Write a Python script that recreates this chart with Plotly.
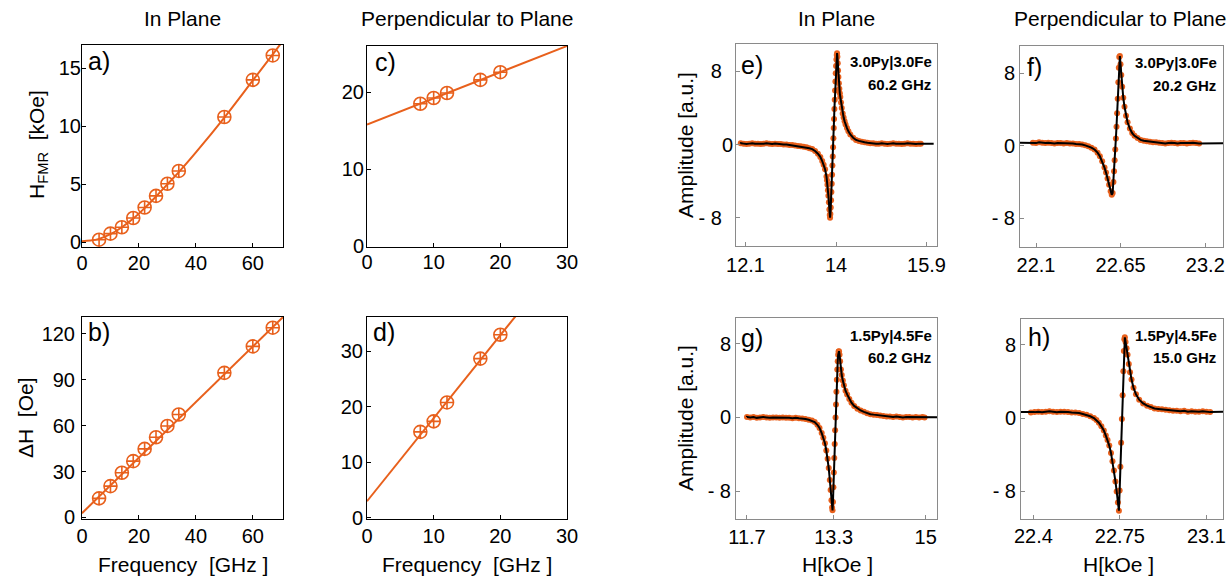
import plotly.graph_objects as go

# ---------------- data ----------------
# a) in-plane resonance field vs frequency
A_FREQ = [6, 10, 14, 18, 22, 26, 30, 34, 50, 60, 67]
A_HFMR = [0.23, 0.75, 1.3, 2.1, 3.0, 4.0, 5.05, 6.15, 10.8, 14.0, 16.1]
A_FIT_FREQ = [0, 3, 6, 10, 14, 18, 22, 26, 30, 34, 40, 50, 60, 67, 71]
A_FIT_H = [0.1, 0.15, 0.3, 0.7, 1.3, 2.05, 2.95, 3.95, 5.0, 6.05, 7.75, 10.75, 13.95, 16.2, 17.5]

# b) in-plane linewidth vs frequency
B_FREQ = [6, 10, 14, 18, 22, 26, 30, 34, 50, 60, 67]
B_DH = [12.5, 20.5, 29.2, 36.8, 44.8, 52.4, 59.8, 67.3, 94.5, 111.8, 124.0]
B_FIT_FREQ = [0, 72]
B_FIT_DH = [2.8, 133.5]

# c) perpendicular resonance field vs frequency
C_FREQ = [8, 10, 12, 17, 20]
C_HFMR = [18.5, 19.25, 19.9, 21.6, 22.6]
C_FIT_FREQ = [0, 30]
C_FIT_H = [15.8, 26.0]

# d) perpendicular linewidth vs frequency
D_FREQ = [8, 10, 12, 17, 20]
D_DH = [15.5, 17.4, 20.8, 28.7, 33.0]
D_FIT_FREQ = [0, 25]
D_FIT_DH = [3.0, 40.4]

# e) 3.0Py|3.0Fe, in plane, 60.2 GHz
E_FIELD = [12.00, 12.06, 12.12, 12.18, 12.24, 12.30, 12.36, 12.42, 12.48, 12.54, 12.60,
           12.66, 12.72, 12.78, 12.84, 12.90, 12.96, 13.02, 13.08, 13.14, 13.20,
           13.26, 13.32, 13.38, 13.44, 13.50, 13.56, 13.62,
           13.67, 13.71, 13.74, 13.77,
           13.80, 13.81, 13.82, 13.83, 13.84, 13.85, 13.86,
           13.868, 13.875,
           13.882, 13.889, 13.896, 13.903, 13.910, 13.917, 13.924, 13.931, 13.938, 13.945,
           13.952, 13.959, 13.966, 13.973, 13.980, 13.987, 13.994, 14.001, 14.008, 14.015, 14.022,
           14.029, 14.036, 14.043,
           14.05, 14.06, 14.07, 14.08, 14.09,
           14.105, 14.12, 14.14, 14.16, 14.18, 14.20,
           14.23, 14.26, 14.30,
           14.36, 14.42, 14.48, 14.54, 14.60,
           14.66, 14.72, 14.78, 14.84, 14.90, 14.96, 15.02, 15.08, 15.14, 15.20,
           15.26, 15.32, 15.38, 15.44, 15.50, 15.56, 15.62, 15.68, 15.74, 15.78]
E_AMP = [0.15, 0.1, 0.05, 0.1, 0.15, 0.1, 0.1, 0.05, 0.1, 0.15, 0.1,
         0.05, 0.1, 0.05, 0.05, 0.0, 0.0, -0.05, -0.05, -0.1, -0.15,
         -0.2, -0.25, -0.3, -0.4, -0.5, -0.7, -1.0,
         -1.35, -1.8, -2.2, -2.7,
         -3.5, -3.9, -4.4, -5.0, -5.6, -6.3, -7.1,
         -7.7, -8.0,
         -7.6, -6.9, -6.1, -5.2, -4.3, -3.3, -2.3, -1.3, -0.3, 0.7,
         1.8, 2.8, 3.9, 4.9, 5.9, 6.9, 7.8, 8.6, 9.3, 9.8, 10.0,
         9.6, 8.9, 8.1,
         7.4, 6.7, 6.1, 5.6, 5.2,
         4.6, 4.0, 3.4, 2.95, 2.55, 2.2,
         1.8, 1.45, 1.1,
         0.75, 0.5, 0.4, 0.3, 0.25,
         0.2, 0.15, 0.15, 0.1, 0.1, 0.15, 0.1, 0.05, 0.1, 0.15,
         0.1, 0.1, 0.05, 0.1, 0.15, 0.1, 0.1, 0.05, 0.1, 0.1]
E_FIT_ENDS = [11.99, 16.05]
E_FIT_BASE = [0.1, 0.1]

# f) 3.0Py|3.0Fe, perpendicular, 20.2 GHz
F_FIELD = [22.08, 22.10, 22.12, 22.14, 22.16, 22.18, 22.20, 22.22, 22.24, 22.26, 22.28,
           22.30, 22.32, 22.34, 22.36, 22.38,
           22.40, 22.42, 22.44, 22.46, 22.48, 22.50, 22.515, 22.53, 22.545, 22.555,
           22.565, 22.575, 22.585, 22.592, 22.598, 22.603, 22.607, 22.611, 22.615, 22.619,
           22.623, 22.627, 22.631, 22.635, 22.638, 22.641, 22.645, 22.649, 22.654, 22.66,
           22.667, 22.675, 22.685, 22.695, 22.71, 22.725, 22.74, 22.76, 22.78, 22.80,
           22.82, 22.84, 22.86, 22.88, 22.90,
           22.92, 22.94, 22.96, 22.98, 23.00, 23.02, 23.04, 23.06, 23.08, 23.10,
           23.12, 23.14, 23.16]
F_AMP = [0.35, 0.3, 0.4, 0.35, 0.3, 0.35, 0.3, 0.25, 0.3, 0.3, 0.25,
         0.3, 0.25, 0.25, 0.2, 0.2,
         0.15, 0.05, -0.05, -0.2, -0.4, -0.75, -1.15, -1.7, -2.4, -2.95,
         -3.6, -4.3, -5.0, -5.4, -5.2, -4.0, -2.8, -1.6, -0.4, 0.8,
         2.1, 3.6, 5.2, 7.0, 8.6, 9.8, 9.9, 9.0, 7.8, 6.5,
         5.3, 4.3, 3.3, 2.6, 1.9, 1.4, 1.1, 0.85, 0.65, 0.55,
         0.5, 0.45, 0.4, 0.4, 0.35,
         0.3, 0.25, 0.3, 0.35, 0.3, 0.25, 0.3, 0.3, 0.25, 0.3,
         0.35, 0.3, 0.25]
F_FIT_ENDS = [21.99, 23.33]
F_FIT_BASE = [0.33, 0.3]

# g) 1.5Py|4.5Fe, in plane, 60.2 GHz
G_FIELD = [11.70, 11.76, 11.82, 11.88, 11.94, 12.00, 12.06, 12.12, 12.18, 12.24, 12.30,
           12.36, 12.42, 12.48, 12.54, 12.60, 12.66,
           12.72, 12.78, 12.84, 12.90, 12.95, 13.00, 13.04, 13.08, 13.11, 13.14,
           13.165, 13.19, 13.21, 13.23, 13.245, 13.26, 13.272, 13.28, 13.288, 13.296,
           13.304, 13.312, 13.32, 13.328, 13.336, 13.344, 13.352, 13.36, 13.368, 13.376,
           13.384, 13.392, 13.40, 13.41, 13.42, 13.435, 13.45, 13.47, 13.49, 13.52,
           13.55, 13.59, 13.63, 13.68, 13.74, 13.80, 13.86, 13.92, 13.98, 14.04,
           14.10, 14.16, 14.22,
           14.28, 14.34, 14.40, 14.46, 14.52, 14.58, 14.64, 14.70, 14.76, 14.82,
           14.88, 14.94, 14.98]
G_AMP = [0.05, 0.0, 0.05, -0.05, 0.0, 0.05, 0.0, -0.05, 0.0, 0.0, -0.05,
         0.0, -0.05, -0.05, -0.1, -0.05, -0.1,
         -0.12, -0.18, -0.25, -0.35, -0.5, -0.8, -1.15, -1.7, -2.2, -2.8,
         -3.6, -4.5, -5.5, -6.8, -7.9, -9.0, -9.8, -10.1, -9.2, -7.6,
         -6.0, -4.4, -2.9, -1.4, 0.0, 1.4, 2.8, 4.1, 5.2, 6.1,
         6.8, 7.15, 7.2, 6.8, 6.1, 5.2, 4.6, 4.0, 3.5, 2.9,
         2.5, 2.0, 1.6, 1.25, 0.95, 0.75, 0.6, 0.45, 0.35, 0.3,
         0.25, 0.2, 0.15,
         0.1, 0.1, 0.05, 0.1, 0.05, 0.0, 0.05, 0.05, 0.0, 0.05,
         0.0, 0.05, 0.0]
G_FIT_ENDS = [11.70, 15.25]
G_FIT_BASE = [0.03, 0.0]

# h) 1.5Py|4.5Fe, perpendicular, 15.0 GHz
H_FIELD = [22.390, 22.405, 22.420, 22.435, 22.450, 22.465, 22.480, 22.495, 22.510, 22.525,
           22.540, 22.555, 22.570, 22.585,
           22.60, 22.615, 22.63, 22.645, 22.655, 22.665, 22.675, 22.685, 22.693, 22.70,
           22.707, 22.714, 22.72, 22.726, 22.732, 22.737, 22.742, 22.746, 22.749, 22.752,
           22.755, 22.758, 22.761, 22.764, 22.766, 22.768, 22.770, 22.773, 22.777, 22.781,
           22.786, 22.791, 22.797, 22.805, 22.815, 22.828, 22.844, 22.86, 22.875, 22.89,
           22.905, 22.92, 22.935, 22.95,
           22.965, 22.980, 22.995, 23.010, 23.025, 23.040, 23.055, 23.070, 23.085, 23.100,
           23.115]
H_AMP = [0.6, 0.65, 0.7, 0.65, 0.7, 0.75, 0.7, 0.65, 0.7, 0.7,
         0.65, 0.6, 0.6, 0.55,
         0.45, 0.35, 0.2, 0.0, -0.2, -0.5, -0.9, -1.35, -1.9, -2.4,
         -3.0, -3.8, -4.7, -5.7, -6.9, -8.0, -9.2, -10.1, -7.9, -5.3,
         -2.7, -0.1, 2.5, 5.1, 7.3, 8.6, 8.8, 8.3, 7.6, 6.9,
         5.9, 5.0, 4.2, 3.3, 2.6, 2.0, 1.6, 1.35, 1.2, 1.05,
         1.0, 0.95, 0.9, 0.85,
         0.8, 0.8, 0.75, 0.8, 0.7, 0.75, 0.7, 0.7, 0.75, 0.7,
         0.65]
H_FIT_ENDS = [22.34, 23.18]
H_FIT_BASE = [0.65, 0.7]

# ---------------- layout helpers ----------------
W, H = 1232, 577
ORANGE = "#E8601C"
FONT = "Liberation Sans, Arial, sans-serif"
GRAY = "#8a8a8a"


def dx(l, r):
    return [l / W, r / W]


def dy(t, b):
    return [1 - b / H, 1 - t / H]


AMP_TICKS = ["- 8", "0", "8"]
AMP_TICKS_E = ["- 8&nbsp;&nbsp;", "0", "8&nbsp;&nbsp;"]

panels = [
    # name, xdom(px), ydom(px), xrange, yrange, xticks, xticktext, yticks, yticktext, frame, x-standoff, y-standoff
    ("a", (82, 283), (45, 247), [0, 70.6], [-0.4, 17], [0, 20, 40, 60], None, [0, 5, 10, 15], None, "black", -2, -4),
    ("b", (82, 283), (317, 519), [0, 70.6], [-1, 131], [0, 20, 40, 60], None, [0, 30, 60, 90, 120], None, "black", -1, 2),
    ("c", (367, 567), (46, 247), [0, 30], [-0.1, 26], [0, 10, 20, 30], None, [0, 10, 20], None, "black", -3, -2),
    ("d", (367, 567), (317, 519), [0, 30], [-0.2, 36.2], [0, 10, 20, 30], None, [0, 10, 20, 30], None, "black", -1, -1),
    ("e", (736, 937), (44, 246), [11.9, 16.12], [-11.1, 11], [12.1, 14, 15.9], ["12.1", "14", "15.9"],
     [-8, 0, 8], AMP_TICKS_E, GRAY, 1, -2),
    ("f", (1020, 1223), (46, 247), [21.996, 23.315], [-11.15, 11.0], [22.1, 22.65, 23.2], ["22.1", "22.65", "23.2"],
     [-8, 0, 8], AMP_TICKS, GRAY, 0, 0),
    ("g", (736, 937), (318, 519), [11.497, 15.21], [-11.04, 10.8], [11.7, 13.3, 15], ["11.7", "13.3", "15"],
     [-8, 0, 8], AMP_TICKS, GRAY, 0, 0),
    ("h", (1021, 1223), (319, 519), [22.35, 23.167], [-11.0, 10.8], [22.4, 22.75, 23.1], ["22.4", "22.75", "23.1"],
     [-8, 0, 8], AMP_TICKS, GRAY, -1, 0),
]

fig = go.Figure()
layout = dict(
    width=W, height=H, margin=dict(l=0, r=0, t=0, b=0, pad=0, autoexpand=False),
    paper_bgcolor="white", plot_bgcolor="white", showlegend=False,
    font=dict(family=FONT, size=20, color="black"),
)
axis_ids = {}
for i, (name, xd, yd, xr, yr, xt, xtt, yt, ytt, frame, xso, yso) in enumerate(panels):
    n = "" if i == 0 else str(i + 1)
    axis_ids[name] = ("x" + n, "y" + n)
    xa = dict(domain=dx(*xd), range=xr, anchor="y" + n, showgrid=False, zeroline=False,
              showline=True, mirror=True, linecolor=frame, linewidth=1, automargin=False,
              ticks="inside", ticklen=4, tickcolor=frame, tickvals=xt,
              tickfont=dict(size=20, family=FONT, color="black"), ticklabelstandoff=xso)
    if xtt:
        xa["ticktext"] = xtt
    ya = dict(domain=dy(*yd), range=yr, anchor="x" + n, showgrid=False, zeroline=False,
              showline=True, mirror=True, linecolor=frame, linewidth=1, automargin=False,
              ticks="inside", ticklen=4, tickcolor=frame, tickvals=yt,
              tickfont=dict(size=20, family=FONT, color="black"), ticklabelstandoff=yso)
    if ytt:
        ya["ticktext"] = ytt
    layout["xaxis" + n] = xa
    layout["yaxis" + n] = ya

# ---------------- traces: frequency panels ----------------
freq_sets = [
    ("a", A_FREQ, A_HFMR, A_FIT_FREQ, A_FIT_H, "spline"),
    ("b", B_FREQ, B_DH, B_FIT_FREQ, B_FIT_DH, "linear"),
    ("c", C_FREQ, C_HFMR, C_FIT_FREQ, C_FIT_H, "linear"),
    ("d", D_FREQ, D_DH, D_FIT_FREQ, D_FIT_DH, "linear"),
]
for name, fx, fy, lx, ly, shape in freq_sets:
    xa, ya = axis_ids[name]
    fig.add_trace(go.Scatter(x=lx, y=ly, mode="lines", xaxis=xa, yaxis=ya,
                             line=dict(color=ORANGE, width=2, shape=shape), hoverinfo="skip"))
    fig.add_trace(go.Scatter(x=fx, y=fy, mode="markers", xaxis=xa, yaxis=ya,
                             marker=dict(symbol="circle-cross-open", size=13, color=ORANGE,
                                         line=dict(color=ORANGE, width=1.6)),
                             hoverinfo="skip"))

# ---------------- traces: spectra panels ----------------
spec_sets = [
    ("e", E_FIELD, E_AMP, E_FIT_ENDS, E_FIT_BASE),
    ("f", F_FIELD, F_AMP, F_FIT_ENDS, F_FIT_BASE),
    ("g", G_FIELD, G_AMP, G_FIT_ENDS, G_FIT_BASE),
    ("h", H_FIELD, H_AMP, H_FIT_ENDS, H_FIT_BASE),
]
for name, hx, hy, ends, base in spec_sets:
    xa, ya = axis_ids[name]
    fig.add_trace(go.Scatter(x=hx, y=hy, mode="markers", xaxis=xa, yaxis=ya,
                             marker=dict(size=6, color=ORANGE, line=dict(width=0)),
                             hoverinfo="skip"))
    lx = [ends[0]] + list(hx) + [ends[1]]
    ly = [base[0]] + list(hy) + [base[1]]
    fig.add_trace(go.Scatter(x=lx, y=ly, mode="lines", xaxis=xa, yaxis=ya,
                             line=dict(color="black", width=2.0), hoverinfo="skip"))

# ---------------- annotations ----------------
ann = []


def text(px, py, s, size=21, bold=False, xanchor="center", angle=0):
    ann.append(dict(x=px / W, y=1 - py / H, xref="paper", yref="paper", text=("<b>%s</b>" % s) if bold else s,
                    showarrow=False, xanchor=xanchor, yanchor="middle", textangle=angle,
                    font=dict(family=FONT, size=size, color="black")))


# column titles
text(182.5, 19, "In Plane")
text(467, 19, "Perpendicular to Plane")
text(836.5, 19, "In Plane")
text(1120, 19, "Perpendicular to Plane")

# axis titles
text(38, 145, "H<sub>FMR</sub>  [kOe]", angle=-90)
text(25, 418, "ΔH  [Oe]", angle=-90)
text(685, 145, "Amplitude [a.u.]", angle=-90)
text(685, 418, "Amplitude [a.u.]", angle=-90)
text(183, 564, "Frequency  [GHz ]")
text(467, 564, "Frequency  [GHz ]")
text(837, 564, "H[kOe ]")
text(1118, 564, "H[kOe ]")

# panel letters
for lab, px, py in [("a)", 86, 61), ("b)", 86, 332), ("c)", 373, 62), ("d)", 371, 332),
                    ("e)", 739, 65), ("f)", 1025, 67), ("g)", 739, 338), ("h)", 1026, 337)]:
    text(px, py, lab, size=25, xanchor="left")

# sample / frequency labels
for s, px, py in [("3.0Py|3.0Fe", 934, 62), ("60.2 GHz", 933, 84),
                  ("3.0Py|3.0Fe", 1219, 63), ("20.2 GHz", 1218, 86),
                  ("1.5Py|4.5Fe", 934, 335), ("60.2 GHz", 933, 357),
                  ("1.5Py|4.5Fe", 1219, 335), ("15.0 GHz", 1218, 357)]:
    text(px, py, s, size=15, bold=True, xanchor="right")

layout["annotations"] = ann
fig.update_layout(**layout)
fig.write_html("out.html", config={"displayModeBar": False},
               post_script="document.body.style.margin='0px';document.body.style.overflow='hidden';")
